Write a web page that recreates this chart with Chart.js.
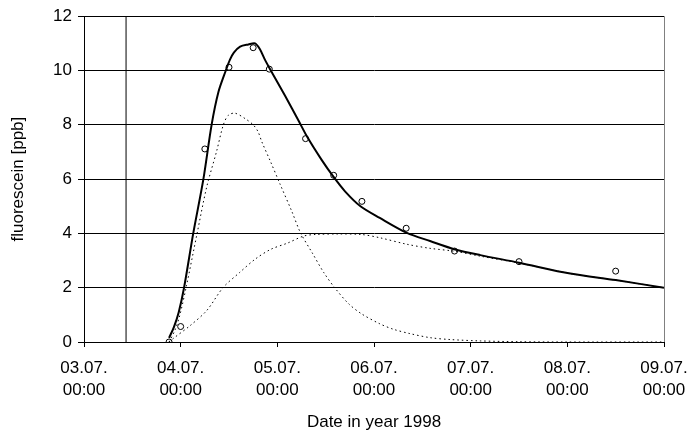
<!DOCTYPE html>
<html>
<head>
<meta charset="utf-8">
<script src="https://cdn.jsdelivr.net/npm/chart.js@4/dist/chart.umd.min.js"></script>
<style>
  html, body { margin: 0; padding: 0; background: #fff; }
  #wrap { width: 689px; height: 433px; position: relative; }
</style>
</head>
<body>
<div id="wrap"><canvas id="c"></canvas></div>
<script>
// Time axis in days since 03.07.1998 00:00
const dayLabels = ['03.07.', '04.07.', '05.07.', '06.07.', '07.07.', '08.07.', '09.07.'];
const timeLabel = '00:00';

// Injection time (vertical marker)
const injectionDay = 0.435;

// Measured fluorescein samples
const sampleDays   = [0.88, 1.00, 1.25, 1.50, 1.75, 1.917, 2.292, 2.583, 2.875, 3.333, 3.833, 4.50, 5.50];
const sampleValues = [0.00, 0.57, 7.11, 10.12, 10.84, 10.05, 7.49, 6.14, 5.18, 4.19, 3.35, 2.96, 2.61];

// Total model fit
const fitDays   = [0.88, 0.93, 0.98, 1.035, 1.13, 1.235, 1.32, 1.39, 1.467, 1.51, 1.55, 1.615, 1.70, 1.77, 1.82, 1.87, 1.925, 2.08, 2.22, 2.31, 2.46, 2.58, 2.70, 2.86, 3.06, 3.34, 3.58, 3.84, 4.10, 4.50, 5.03, 5.50, 6.00];
const fitValues = [0.15, 0.55, 1.10, 2.00, 4.00, 6.00, 8.00, 9.20, 10.00, 10.40, 10.66, 10.88, 10.96, 11.00, 10.78, 10.41, 10.05, 9.07, 8.15, 7.55, 6.70, 6.09, 5.55, 5.00, 4.57, 4.02, 3.72, 3.41, 3.20, 2.92, 2.52, 2.28, 2.00];

// Fast flow component
const fastDays   = [0.88, 0.94, 0.99, 1.06, 1.17, 1.27, 1.37, 1.44, 1.49, 1.56, 1.67, 1.75, 1.80, 1.84, 1.93, 2.03, 2.15, 2.24, 2.36, 2.48, 2.60, 2.74, 2.87, 3.06, 3.20, 3.37, 3.58, 3.79, 4.10, 4.50, 5.00, 6.00];
const fastValues = [0.00, 0.43, 0.97, 2.07, 4.00, 5.72, 7.00, 7.98, 8.34, 8.43, 8.22, 8.00, 7.75, 7.37, 6.64, 5.80, 4.81, 4.02, 3.29, 2.56, 1.97, 1.40, 1.04, 0.67, 0.47, 0.31, 0.16, 0.09, 0.04, 0.01, 0.00, 0.00];

// Slow flow component
const slowDays   = [0.88, 0.92, 1.10, 1.27, 1.44, 1.61, 1.77, 1.93, 2.11, 2.27, 2.39, 2.63, 2.87, 3.06, 3.34, 3.58, 3.84, 4.10, 4.50, 5.03, 5.50, 6.00];
const slowValues = [0.00, 0.12, 0.61, 1.16, 2.01, 2.56, 3.05, 3.41, 3.65, 3.90, 3.96, 3.98, 3.96, 3.84, 3.60, 3.45, 3.34, 3.16, 2.91, 2.52, 2.28, 2.00];

const pts = (xs, ys) => xs.map((x, i) => ({ x: x, y: ys[i] }));

Chart.defaults.font.family = '"Liberation Sans", Arial, sans-serif';
Chart.defaults.font.size = 17;
Chart.defaults.color = '#000';

new Chart(document.getElementById('c'), {
  type: 'scatter',
  data: {
    datasets: [
      {
        label: 'injection',
        data: [{ x: injectionDay, y: 0 }, { x: injectionDay, y: 12 }],
        showLine: true, borderColor: '#000', borderWidth: 1, pointRadius: 0
      },
      {
        label: 'fast component',
        data: pts(fastDays, fastValues),
        showLine: true, borderColor: '#000', borderWidth: 1, borderDash: [1.5, 3],
        pointRadius: 0, tension: 0.3
      },
      {
        label: 'slow component',
        data: pts(slowDays, slowValues),
        showLine: true, borderColor: '#000', borderWidth: 1, borderDash: [1.5, 3],
        pointRadius: 0, tension: 0.3
      },
      {
        label: 'model',
        data: pts(fitDays, fitValues),
        showLine: true, borderColor: '#000', borderWidth: 2,
        pointRadius: 0, tension: 0.3
      },
      {
        label: 'measured',
        data: pts(sampleDays, sampleValues),
        showLine: false, pointStyle: 'circle', pointRadius: 3,
        pointBackgroundColor: '#fff', pointBorderColor: '#000', pointBorderWidth: 1
      }
    ]
  },
  options: {
    responsive: true,
    maintainAspectRatio: false,
    animation: false,
    devicePixelRatio: 1,
    layout: { padding: { top: 13, right: 25, left: 0, bottom: 0 } },
    plugins: { legend: { display: false }, tooltip: { enabled: false } },
    scales: {
      x: {
        type: 'linear',
        min: 0, max: 6,
        afterFit: s => { s.height = 91; s.paddingLeft = 0; s.paddingRight = 0; },
        border: { color: '#000', width: 1 },
        grid: {
          drawOnChartArea: true,
          color: ctx => (ctx.tick && ctx.tick.value === 6 ? '#808080' : 'rgba(0,0,0,0)'),
          tickColor: '#000',
          tickLength: 5
        },
        ticks: {
          stepSize: 1,
          padding: 11,
          maxRotation: 0,
          autoSkip: false,
          font: { size: 17, lineHeight: 1.25 },
          callback: v => [dayLabels[v], timeLabel]
        },
        title: {
          display: true,
          text: 'Date in year 1998',
          font: { size: 17 },
          padding: { top: 0, bottom: 0 }
        }
      },
      y: {
        min: 0, max: 12,
        afterFit: s => { s.width = 84; },
        border: { color: '#000', width: 1 },
        grid: { color: '#000', tickColor: '#000', tickLength: 6 },
        ticks: { stepSize: 2, padding: 6, font: { size: 17 } },
        title: {
          display: true,
          text: 'fluorescein [ppb]',
          font: { size: 17 },
          padding: { top: 8, bottom: 0 }
        }
      }
    }
  }
});
</script>
</body>
</html>
